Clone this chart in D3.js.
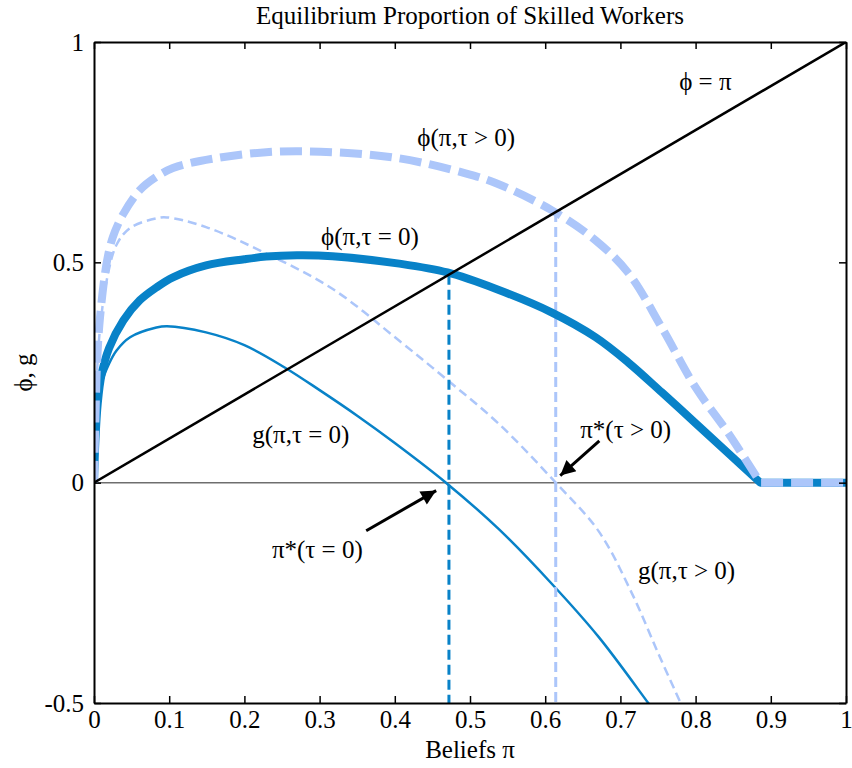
<!DOCTYPE html>
<html>
<head>
<meta charset="utf-8">
<script src="https://cdn.jsdelivr.net/npm/d3@7"></script>
<style>
  body { margin: 0; background: #fff; }
  text { font-family: "Liberation Serif", "DejaVu Serif", serif; fill: #000; }
</style>
</head>
<body>
<svg id="chart" width="852" height="768"></svg>
<script>
// Beliefs pi (x) and curve values
const phiTau0 = [
  [0, 0], [0.002, 0.1], [0.005, 0.18], [0.01, 0.245], [0.02, 0.305], [0.039, 0.368],
  [0.061, 0.414], [0.083, 0.443], [0.105, 0.466], [0.149, 0.493], [0.2, 0.507], [0.229, 0.513],
  [0.27, 0.516], [0.317, 0.514], [0.406, 0.497], [0.47, 0.477], [0.534, 0.44], [0.609, 0.386],
  [0.667, 0.33], [0.711, 0.272], [0.755, 0.205], [0.8, 0.135], [0.844, 0.066], [0.886, 0], [1, 0]
];
const phiTauPos = [
  [0, 0], [0.002, 0.15], [0.004, 0.27], [0.008, 0.375], [0.017, 0.5], [0.025, 0.557],
  [0.039, 0.61], [0.061, 0.664], [0.083, 0.694], [0.105, 0.714], [0.141, 0.73], [0.229, 0.75],
  [0.317, 0.75], [0.406, 0.736], [0.494, 0.702], [0.534, 0.68], [0.609, 0.618], [0.667, 0.55],
  [0.711, 0.475], [0.755, 0.352], [0.8, 0.216], [0.844, 0.111], [0.886, 0], [1, 0]
];
const gTau0 = [
  [0, 0], [0.002, 0.1], [0.005, 0.17], [0.01, 0.225], [0.02, 0.27], [0.03, 0.3],
  [0.048, 0.33], [0.083, 0.352], [0.097, 0.355], [0.149, 0.341], [0.2, 0.312], [0.253, 0.262],
  [0.3, 0.21], [0.35, 0.152], [0.4, 0.09], [0.468, 0], [0.538, -0.105], [0.609, -0.23],
  [0.671, -0.35], [0.737, -0.5], [0.75, -0.53]
];
const gTauPos = [
  [0, 0], [0.002, 0.15], [0.004, 0.25], [0.008, 0.35], [0.017, 0.46], [0.03, 0.54],
  [0.048, 0.578], [0.083, 0.6], [0.097, 0.602], [0.149, 0.58], [0.229, 0.52], [0.317, 0.44],
  [0.406, 0.322], [0.472, 0.23], [0.538, 0.134], [0.614, 0], [0.671, -0.11], [0.715, -0.25],
  [0.751, -0.39], [0.78, -0.5], [0.79, -0.54]
];
const identity = [[0, 0], [1, 1]];
const piStar = [0.472, 0.614];   // tau = 0, tau > 0

const xTicks = d3.range(0, 1.01, 0.1);
const yTicks = [-0.5, 0, 0.5, 1];

const dark = "#0882c8";
const light = "#acc6fa";

const svg = d3.select("#chart");
const margin = { top: 42, right: 6, bottom: 65, left: 94 };
const width = 852, height = 768;

const x = d3.scaleLinear().domain([0, 1]).range([margin.left, width - margin.right]);
const y = d3.scaleLinear().domain([-0.5, 1]).range([height - margin.bottom, margin.top]);

const fmt = d => d3.format("~g")(d).replace("−", "-");

svg.append("clipPath").attr("id", "clip")
  .append("rect")
  .attr("x", x(0)).attr("y", y(1))
  .attr("width", x(1) - x(0)).attr("height", y(-0.5) - y(1));

const plot = svg.append("g").attr("clip-path", "url(#clip)");

const line = d3.line()
  .x(d => x(d[0]))
  .y(d => y(d[1]))
  .curve(d3.curveCatmullRom.alpha(0.5));
const straight = d3.line().x(d => x(d[0])).y(d => y(d[1]));

// phi is smooth until it hits zero, then stays flat
function phiPath(data) {
  const k = data.findIndex((d, i) => i > 0 && d[1] === 0);
  return line(data.slice(0, k + 1)) + straight(data.slice(k)).replace("M", "L");
}

// zero line
plot.append("line")
  .attr("x1", x(0)).attr("x2", x(1))
  .attr("y1", y(0)).attr("y2", y(0))
  .attr("stroke", "#6e6e6e").attr("stroke-width", 1.5);

// g curves
plot.append("path").datum(gTau0)
  .attr("fill", "none").attr("stroke", dark).attr("stroke-width", 2.5)
  .attr("d", line);
plot.append("path").datum(gTauPos)
  .attr("fill", "none").attr("stroke", light).attr("stroke-width", 2.5)
  .attr("stroke-dasharray", "9,5")
  .attr("d", line);

// equilibrium verticals
plot.selectAll(".vline")
  .data(piStar)
  .join("line")
  .attr("class", "vline")
  .attr("x1", d => x(d)).attr("x2", d => x(d))
  .attr("y1", d => y(d)).attr("y2", y(-0.5))
  .attr("stroke", (d, i) => i === 0 ? dark : light)
  .attr("stroke-width", 3)
  .attr("stroke-dasharray", "10,5");

// phi curves
plot.append("path").datum(phiTau0)
  .attr("fill", "none").attr("stroke", dark).attr("stroke-width", 8)
  .attr("stroke-linejoin", "round")
  .attr("d", phiPath);
plot.append("path").datum(phiTauPos)
  .attr("fill", "none").attr("stroke", light).attr("stroke-width", 8)
  .attr("stroke-dasharray", "22,8")
  .attr("d", phiPath);

// phi = pi
plot.append("path").datum(identity)
  .attr("fill", "none").attr("stroke", "#000").attr("stroke-width", 2.5)
  .attr("d", straight);

// axes box with inward ticks
function styleAxis(g) {
  g.selectAll("path.domain").attr("stroke", "#000").attr("stroke-width", 2);
  g.selectAll(".tick line").attr("stroke", "#000").attr("stroke-width", 1.5);
  g.selectAll("text").style("font-size", "25px").attr("font-family", null);
}
svg.append("g")
  .attr("transform", `translate(0,${y(-0.5)})`)
  .call(d3.axisBottom(x).tickValues(xTicks).tickFormat(fmt).tickSizeInner(-7).tickSizeOuter(0).tickPadding(7))
  .call(styleAxis);
svg.append("g")
  .attr("transform", `translate(0,${y(1)})`)
  .call(d3.axisTop(x).tickValues(xTicks).tickFormat("").tickSizeInner(-7).tickSizeOuter(0))
  .call(styleAxis);
svg.append("g")
  .attr("transform", `translate(${x(0)},0)`)
  .call(d3.axisLeft(y).tickValues(yTicks).tickFormat(fmt).tickSizeInner(-7).tickSizeOuter(0).tickPadding(10))
  .call(styleAxis);
svg.append("g")
  .attr("transform", `translate(${x(1)},0)`)
  .call(d3.axisRight(y).tickValues(yTicks).tickFormat("").tickSizeInner(-7).tickSizeOuter(0))
  .call(styleAxis);

// arrows
const defs = svg.append("defs");
defs.append("marker")
  .attr("id", "head")
  .attr("viewBox", "0 0 10 10")
  .attr("refX", 10).attr("refY", 5)
  .attr("markerWidth", 6.5).attr("markerHeight", 5)
  .attr("markerUnits", "strokeWidth")
  .attr("orient", "auto")
  .append("path").attr("d", "M0,0L10,5L0,10Z").attr("fill", "#000");

const arrows = [
  { from: [0.672, 0.095], to: [0.62, 0.016] },
  { from: [0.362, -0.109], to: [0.455, -0.018] }
];
svg.selectAll(".arrow")
  .data(arrows)
  .join("line")
  .attr("class", "arrow")
  .attr("x1", d => x(d.from[0])).attr("y1", d => y(d.from[1]))
  .attr("x2", d => x(d.to[0])).attr("y2", d => y(d.to[1]))
  .attr("stroke", "#000").attr("stroke-width", 3)
  .attr("marker-end", "url(#head)");

// curve labels
const labels = [
  { text: "ϕ = π", at: [0.813, 0.89] },
  { text: "ϕ(π,τ > 0)", at: [0.495, 0.765] },
  { text: "ϕ(π,τ = 0)", at: [0.367, 0.54] },
  { text: "g(π,τ = 0)", at: [0.275, 0.091] },
  { text: "π*(τ = 0)", at: [0.297, -0.17] },
  { text: "π*(τ > 0)", at: [0.707, 0.102] },
  { text: "g(π,τ > 0)", at: [0.788, -0.218] }
];
svg.selectAll(".lbl")
  .data(labels)
  .join("text")
  .attr("class", "lbl")
  .attr("x", d => x(d.at[0]))
  .attr("y", d => y(d.at[1]))
  .attr("text-anchor", "middle")
  .style("font-size", "25px")
  .text(d => d.text);

// title and axis labels
svg.append("text")
  .attr("x", (x(0) + x(1)) / 2).attr("y", 24)
  .attr("text-anchor", "middle")
  .style("font-size", "25px")
  .text("Equilibrium Proportion of Skilled Workers");
svg.append("text")
  .attr("x", (x(0) + x(1)) / 2).attr("y", 758)
  .attr("text-anchor", "middle")
  .style("font-size", "25px")
  .text("Beliefs π");
svg.append("text")
  .attr("transform", `translate(32,${(y(1) + y(-0.5)) / 2}) rotate(-90)`)
  .attr("text-anchor", "middle")
  .style("font-size", "25px")
  .text("ϕ, g");
</script>
</body>
</html>
